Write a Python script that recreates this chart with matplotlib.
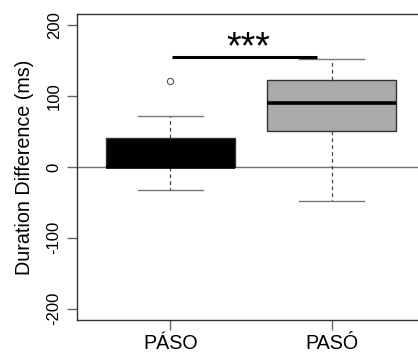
import matplotlib
matplotlib.use("Agg")
import matplotlib.pyplot as plt

plt.rcParams['font.family'] = ['Liberation Sans', 'DejaVu Sans']

categories = ["PÁSO", "PASÓ"]
q1 = [0, 51]
med = [0, 90]
q3 = [41, 123]
whislo = [-33, -48]
whishi = [72, 152]
fliers = [[122], []]
box_colors = ["#000000", "#AAAAAA"]
yticks = [-200, -100, 0, 100, 200]
sig_text = "***"
sig_y = 155

fig = plt.figure(figsize=(4.18, 3.53), dpi=100)
ax = fig.add_axes([0.1842, 0.0935, 0.8328, 0.8669])

stats = []
for i, c in enumerate(categories):
    stats.append(dict(label=c, q1=q1[i], med=med[i], q3=q3[i],
                      whislo=whislo[i], whishi=whishi[i], fliers=fliers[i]))

positions = list(range(1, len(categories) + 1))
ax.axhline(0, color="#707070", lw=1.0, zorder=0.5)
bp = ax.bxp(stats, positions=positions, widths=0.8, patch_artist=True,
            showfliers=True, whiskerprops=dict(color="#444444", lw=0.9, ls=(0, (3, 2.5))),
            capprops=dict(color="#777777", lw=1.0), capwidths=0.4,
            medianprops=dict(color="black", lw=2.6),
            flierprops=dict(marker="o", markersize=4.5, markerfacecolor="white",
                            markeredgecolor="#555555", markeredgewidth=0.8),
            boxprops=dict(lw=1.0))
for patch, col in zip(bp['boxes'], box_colors):
    patch.set_facecolor(col)
    patch.set_edgecolor("#333333")
    patch.set_zorder(2)

ax.plot([positions[0] + 0.012, positions[1] - 0.093], [sig_y, sig_y], color="black", lw=2.2,
        solid_capstyle="butt", zorder=3)
ax.text(1.48, sig_y + 13, sig_text, ha="center", va="center", fontsize=27)

ax.set_xlim(0.42, 2.58)
ax.set_ylim(-216, 216)
ax.set_xticks(positions)
ax.set_xticklabels(categories, fontsize=14.2)
ax.set_yticks(yticks)
ax.set_yticklabels([str(t) for t in yticks], fontsize=12, rotation=90, va="center")
ax.set_ylabel("Duration Difference (ms)", fontsize=14.2, labelpad=9)
ax.tick_params(axis='both', length=7, color="#666666", width=1.0)
ax.tick_params(axis='y', pad=4)
ax.tick_params(axis='x', pad=3)
for s in ax.spines.values():
    s.set_color("#333333")
    s.set_linewidth(1.0)
ax.spines['right'].set_visible(False)

fig.savefig("out.png", dpi=100)
